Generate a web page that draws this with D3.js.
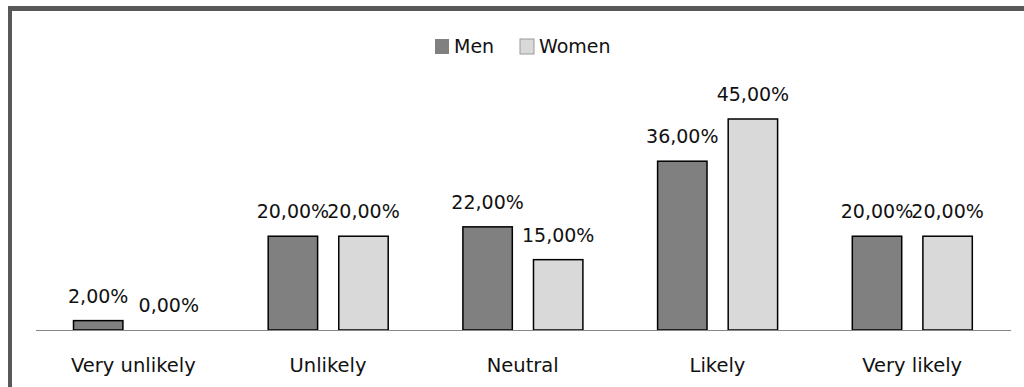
<!DOCTYPE html>
<html>
<head>
<meta charset="utf-8">
<script src="https://cdn.jsdelivr.net/npm/d3@7"></script>
<style>
  html, body { margin: 0; padding: 0; background: #fff; }
  svg { display: block; }
  text { font-family: "DejaVu Sans", sans-serif; fill: #111; }
</style>
</head>
<body>
<script>
// Survey answers by gender (share of respondents, %)
const categories = ["Very unlikely", "Unlikely", "Neutral", "Likely", "Very likely"];
const seriesNames = ["Men", "Women"];
const menValues = [2, 20, 22, 36, 20];
const womenValues = [0, 20, 15, 45, 20];
const seriesColors = ["#808080", "#d9d9d9"];

const W = 1024, H = 387;
const svg = d3.select("body").append("svg").attr("width", W).attr("height", H);

// outer frame (runs off the right and bottom edges)
svg.append("rect").attr("x", 0).attr("y", 0).attr("width", W).attr("height", H).attr("fill", "#fff");
svg.append("rect").attr("x", 8).attr("y", 6).attr("width", W).attr("height", 5).attr("fill", "#585858");
svg.append("rect").attr("x", 8).attr("y", 6).attr("width", 4).attr("height", H).attr("fill", "#585858");

const baseY = 330;
const x = d3.scaleBand().domain(categories).range([36, 1009.5]).paddingInner(0).paddingOuter(0);
const y = d3.scaleLinear().domain([0, 45]).range([baseY, 119]);

const inner = d3.scaleBand().domain(seriesNames).range([37.5, 37.5 + 120]).paddingInner(0.3).paddingOuter(0);

const rows = categories.map((c, i) => ({ cat: c, vals: [menValues[i], womenValues[i]] }));

const groups = svg.append("g").selectAll("g").data(rows).join("g")
  .attr("transform", d => `translate(${x(d.cat)},0)`);

groups.selectAll("rect").data(d => d.vals.map((v, j) => ({ v, s: seriesNames[j], j })))
  .join("rect")
  .filter(d => d.v > 0)
  .attr("x", d => inner(d.s))
  .attr("y", d => y(d.v))
  .attr("width", inner.bandwidth())
  .attr("height", d => baseY - y(d.v))
  .attr("fill", d => seriesColors[d.j])
  .attr("stroke", "#000")
  .attr("stroke-width", 1.5);

// value labels
groups.selectAll("text.val").data(d => d.vals.map((v, j) => ({ v, s: seriesNames[j] })))
  .join("text").attr("class", "val")
  .attr("x", d => inner(d.s) + inner.bandwidth() / 2)
  .attr("y", d => y(d.v) - 18)
  .attr("text-anchor", "middle")
  .style("font-size", "19px")
  .text(d => d.v.toFixed(2).replace(".", ",") + "%");

// category axis
const axis = svg.append("g").attr("transform", `translate(0,${baseY})`)
  .call(d3.axisBottom(x).tickSize(0).tickPadding(0));
axis.select(".domain").attr("stroke", "#868686").attr("stroke-width", 1.2).attr("d", "M36,0.5H1011");
axis.selectAll(".tick text")
  .attr("y", 42).attr("dy", 0)
  .style("font-size", "19.5px")
  .style("font-family", "DejaVu Sans, sans-serif")
  .attr("fill", "#111");

// legend
const legend = svg.append("g");
const legendX = [435, 520];
seriesNames.forEach((n, i) => {
  legend.append("rect").attr("x", legendX[i]).attr("y", 39).attr("width", 14).attr("height", 15)
    .attr("fill", seriesColors[i]).attr("stroke", i === 1 ? "#999" : "none").attr("stroke-width", 1);
  legend.append("text").attr("x", legendX[i] + 19).attr("y", 53).style("font-size", "19px").text(n);
});
</script>
</body>
</html>
